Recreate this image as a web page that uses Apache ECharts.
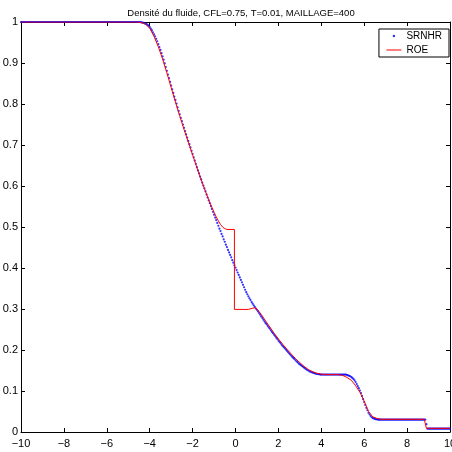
<!DOCTYPE html>
<html>
<head>
<meta charset="utf-8">
<script src="https://cdn.jsdelivr.net/npm/echarts@6/dist/echarts.min.js"></script>
<style>
html,body{margin:0;padding:0;background:#fff;overflow:hidden;}
#chart{width:452px;height:452px;}
</style>
</head>
<body>
<div id="chart"></div>
<script>
// Mesh of the SRNHR solution: 400 cells, nodes every 0.05 from -10 to 10
const meshStart = -10;
const meshStep = 0.05;

// SRNHR density at each mesh node
const srnhrValues = [
  // -10.00 .. -4.55 (110 values)
  1,1,1,1,1,1,1,1,1,1,
  1,1,1,1,1,1,1,1,1,1,
  1,1,1,1,1,1,1,1,1,1,
  1,1,1,1,1,1,1,1,1,1,
  1,1,1,1,1,1,1,1,1,1,
  1,1,1,1,1,1,1,1,1,1,
  1,1,1,1,1,1,1,1,1,1,
  1,1,1,1,1,1,1,1,1,1,
  1,1,1,1,1,1,1,1,1,1,
  1,1,1,1,1,1,1,1,1,1,
  1,1,1,1,1,1,1,1,1,1,
  // -4.50 .. -0.05
  1.000,1.000,0.999,0.999,0.998,0.997,0.996,0.995,0.993,0.991,
  0.988,0.984,0.980,0.975,0.970,0.965,0.959,0.953,0.946,0.939,
  0.932,0.924,0.916,0.908,0.899,0.890,0.881,0.872,0.863,0.854,
  0.845,0.836,0.827,0.818,0.810,0.801,0.792,0.783,0.775,0.766,
  0.758,0.750,0.742,0.734,0.726,0.718,0.710,0.702,0.694,0.686,
  0.678,0.670,0.662,0.654,0.646,0.638,0.631,0.623,0.616,0.608,
  0.601,0.594,0.587,0.579,0.572,0.565,0.558,0.551,0.544,0.537,
  0.530,0.523,0.517,0.510,0.503,0.496,0.490,0.483,0.477,0.470,
  0.464,0.457,0.451,0.444,0.438,0.432,0.426,0.419,0.413,0.407,
  // 0.00 .. 3.95
  0.401,0.395,0.389,0.383,0.377,0.371,0.365,0.359,0.353,0.347,
  0.341,0.336,0.331,0.326,0.322,0.317,0.313,0.309,0.305,0.301,
  0.298,0.294,0.290,0.286,0.282,0.278,0.274,0.270,0.266,0.263,
  0.259,0.255,0.252,0.248,0.244,0.241,0.237,0.234,0.230,0.227,
  0.223,0.220,0.217,0.213,0.210,0.207,0.204,0.201,0.198,0.195,
  0.192,0.189,0.186,0.183,0.180,0.178,0.175,0.172,0.170,0.167,
  0.165,0.163,0.161,0.159,0.157,0.155,0.153,0.151,0.150,0.148,
  0.147,0.146,0.145,0.144,0.143,0.142,0.142,0.141,0.141,0.140,
  // 4.00 .. 5.15 (24 values)
  0.140,0.140,0.140,0.140,0.140,0.140,0.140,0.140,0.140,0.140,
  0.140,0.140,0.140,0.140,0.140,0.140,0.140,0.140,0.140,0.140,
  0.140,0.140,0.140,0.140,
  // 5.20 .. 6.75 (32 values)
  0.139,0.138,0.137,0.136,0.134,0.132,0.129,0.126,0.122,0.117,
  0.112,0.107,0.101,0.095,0.088,0.080,0.073,0.066,0.059,0.053,
  0.047,0.043,0.039,0.036,0.034,0.033,0.032,0.031,0.031,0.030,
  0.030,0.030,
  // 6.80 .. 8.85 (42 values)
  0.030,0.030,0.030,0.030,0.030,0.030,0.030,0.030,0.030,0.030,
  0.030,0.030,0.030,0.030,0.030,0.030,0.030,0.030,0.030,0.030,
  0.030,0.030,0.030,0.030,0.030,0.030,0.030,0.030,0.030,0.030,
  0.030,0.030,0.030,0.030,0.030,0.030,0.030,0.030,0.030,0.030,
  0.030,0.030,
  // 8.90, 8.95
  0.019,0.008,
  // 9.00 .. 10.00 (21 values)
  0.008,0.008,0.008,0.008,0.008,0.008,0.008,0.008,0.008,0.008,
  0.008,0.008,0.008,0.008,0.008,0.008,0.008,0.008,0.008,0.008,
  0.008
];

// ROE solution: positions and densities
const roeX = [-10,-4.6,-4.4,-4.2,-4.0,-3.8,-3.6,-3.4,-3.2,-3.0,-2.8,-2.6,-2.4,-2.2,-2.0,
  -1.8,-1.6,-1.4,-1.2,-1.0,-0.9,-0.8,-0.7,-0.6,-0.5,-0.4,-0.05,-0.05,0.6,0.8,0.9,1.0,
  1.2,1.4,1.6,1.8,2.0,2.2,2.4,2.6,2.8,3.0,3.2,3.4,3.6,3.8,4.0,4.2,4.8,5.0,5.2,5.4,5.6,
  5.8,6.0,6.2,6.4,6.6,6.8,8.8,8.85,8.9,10];
const roeValues = [1,1,0.999,0.995,0.985,0.965,0.940,0.910,0.876,0.840,0.805,0.771,0.738,0.707,0.676,
  0.645,0.615,0.587,0.560,0.536,0.525,0.515,0.506,0.500,0.496,0.494,0.494,0.299,0.299,0.302,0.303,0.300,
  0.287,0.271,0.256,0.241,0.227,0.214,0.202,0.190,0.179,0.169,0.160,0.152,0.147,0.143,0.141,0.140,0.140,0.138,0.133,0.126,0.113,
  0.097,0.075,0.050,0.037,0.033,0.031,0.031,0.020,0.009,0.009];

const titleText = 'Densité du fluide, CFL=0.75, T=0.01, MAILLAGE=400';
const seriesNames = ['SRNHR', 'ROE'];

const srnhrData = srnhrValues.map((v, i) => [+(meshStart + i * meshStep).toFixed(2), v]);
const roeData = roeX.map((x, i) => [x, roeValues[i]]);

const FONT = 'Liberation Sans, Arial, Helvetica, sans-serif';
const minus = v => (v < 0 ? '\u2212' + Math.abs(v) : String(v));

const chart = echarts.init(document.getElementById('chart'), null, {renderer: 'canvas'});
const axisCommon = {
  axisLine: {show: true, onZero: false, lineStyle: {color: '#000', width: 1}},
  axisTick: {show: true, inside: true, length: 4, lineStyle: {color: '#000'}},
  splitLine: {show: false}
};
chart.setOption({
  animation: false,
  backgroundColor: '#fff',
  title: {
    text: titleText,
    left: 236, top: 3, textAlign: 'center',
    textStyle: {fontFamily: FONT, fontSize: 9.5, fontWeight: 'normal', color: '#000'}
  },
  legend: {
    orient: 'vertical', right: 3, top: 29,
    padding: [1, 7, 1, 7], itemGap: 2,
    itemWidth: 15, itemHeight: 2.5,
    borderColor: '#000', borderWidth: 1, backgroundColor: '#fff',
    textStyle: {fontFamily: FONT, fontSize: 10, color: '#000', lineHeight: 12},
    data: [
      {name: seriesNames[0]},
      {name: seriesNames[1], lineStyle: {width: 1}, itemStyle: {opacity: 0}}
    ]
  },
  grid: {left: 21, right: 2, top: 22, bottom: 20, containLabel: false, outerBoundsMode: 'none'},
  xAxis: [
    Object.assign({type: 'value', min: -10, max: 10, interval: 2, position: 'bottom',
      axisLabel: {fontFamily: FONT, fontSize: 11, color: '#000', margin: 6, formatter: minus,
        hideOverlap: false}}, axisCommon),
    Object.assign({type: 'value', min: -10, max: 10, interval: 2, position: 'top',
      axisLabel: {show: false}}, axisCommon)
  ],
  yAxis: [
    Object.assign({type: 'value', min: 0, max: 1, interval: 0.1, position: 'left',
      axisLabel: {fontFamily: FONT, fontSize: 11, color: '#000', margin: 3,
        formatter: v => String(+v.toFixed(1))}}, axisCommon),
    Object.assign({type: 'value', min: 0, max: 1, interval: 0.1, position: 'right',
      axisLabel: {show: false}}, axisCommon)
  ],
  series: [
    {
      name: seriesNames[0], type: 'scatter', xAxisIndex: 0, yAxisIndex: 0,
      data: srnhrData, symbol: 'circle', symbolSize: 2.2,
      itemStyle: {color: '#0000ff'}
    },
    {
      name: seriesNames[1], type: 'line', xAxisIndex: 0, yAxisIndex: 0,
      data: roeData, showSymbol: false, symbol: 'none',
      lineStyle: {color: '#ff0000', width: 1},
      itemStyle: {color: '#ff0000'}
    }
  ]
});
</script>
</body>
</html>
